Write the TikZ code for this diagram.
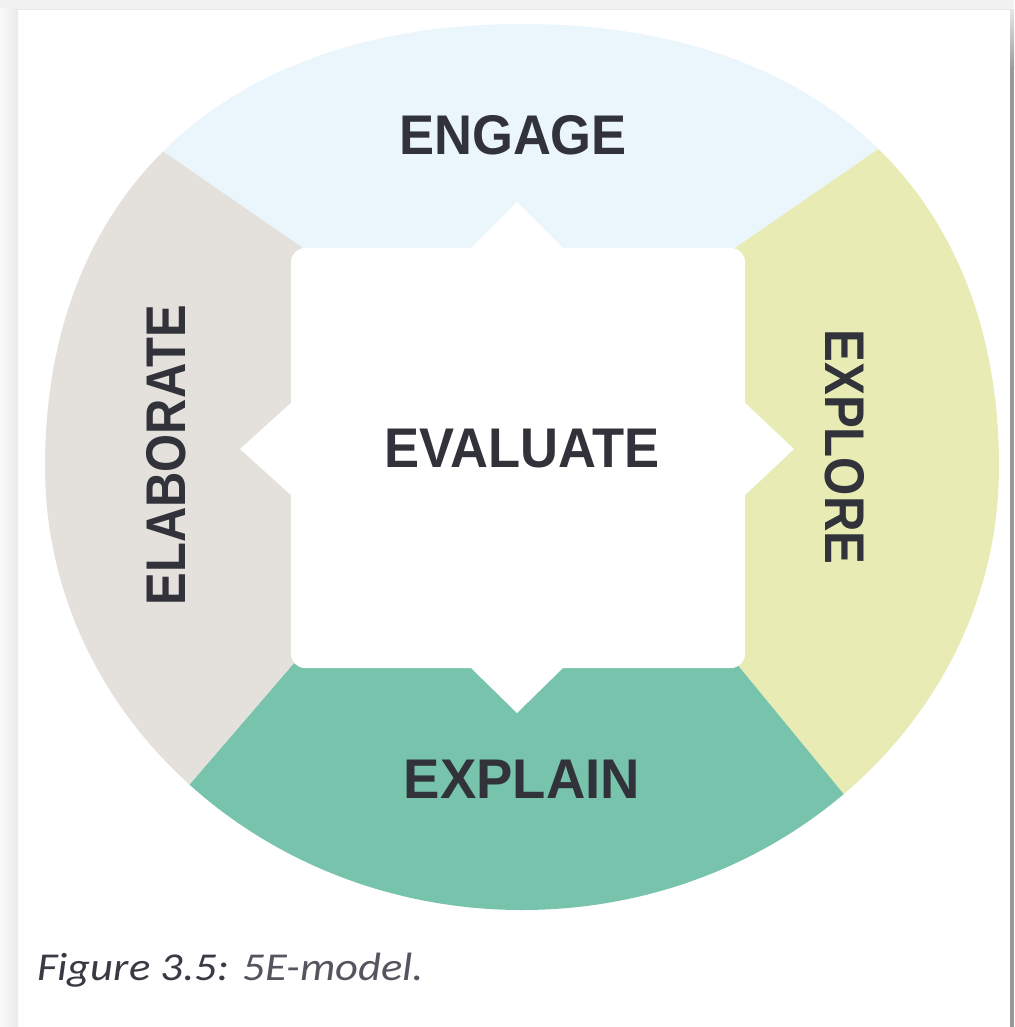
\documentclass[tikz,border=0pt]{standalone}
\usepackage{fontspec}
\usepackage{xcolor}
\usepackage{tikz}
\usetikzlibrary{calc}
\newfontfamily\labelfont{Liberation Sans}
\newfontfamily\capfont{Carlito}
\definecolor{engagecol}{HTML}{EAF5FC}
\definecolor{explorecol}{HTML}{E8ECB4}
\definecolor{explaincol}{HTML}{78C3AC}
\definecolor{elaboratecol}{HTML}{E4E1DD}
\definecolor{labeltext}{HTML}{32323A}
\definecolor{captiondark}{HTML}{3A3A44}
\definecolor{captionlight}{HTML}{55555F}
\definecolor{framegray}{HTML}{F1F1F1}

\begin{document}
\begin{tikzpicture}[x=1pt,y=-1pt,
    seglabel/.style={text=labeltext, inner sep=0pt, font=\labelfont\bfseries\fontsize{55.9}{60}\selectfont}]
        \useasboundingbox (0,0) rectangle (1014,1027);

        % Page frame
        \fill[white] (0,0) rectangle (1014,1027);
        \fill[framegray] (0,0) rectangle (1014,9);
        \draw[black!9] (18,9.5) -- (1010,9.5);
        \shade[left color=white!98!black, right color=white!92!black] (0,9) rectangle (18,1027);
        \shade[top color=white!90!black, bottom color=white!60!black] (1010,10) rectangle (1014,70);
        \fill[white!60!black] (1010,70) rectangle (1014,1027);

        % Coloured ring
        \begin{scope}
            \clip (45,467) .. controls (45,192) and (226,24) .. (522,24)
                           .. controls (818,24) and (999,192) .. (999,467)
                           .. controls (999,712) and (785,910) .. (522,910)
                           .. controls (259,910) and (45,712) .. (45,467) -- cycle;
            \fill[engagecol] (19,52) -- (374,297) -- (664,297) -- (1019,52) -- (1100,-100) -- (-100,-100) -- cycle; % Engage
            \fill[explorecol] (1019,52) -- (664,297) -- (685,601) -- (948,921) -- (1100,1100) -- (1100,-100) -- cycle; % Explore
            \fill[explaincol] (948,921) -- (685,601) -- (343,606) -- (91,899) -- (-100,1100) -- (1100,1100) -- cycle; % Explain
            \fill[elaboratecol] (91,899) -- (343,606) -- (374,297) -- (19,52) -- (-100,-100) -- (-100,1100) -- cycle; % Elaborate
        \end{scope}

        % Inner square with notches
        \fill[white, rounded corners=14pt] (291,248) rectangle (745,668);
        \fill[white] (470,249) -- (517,202) -- (564,249) -- cycle;
        \fill[white] (470,667) -- (517,713) -- (564,667) -- cycle;
        \fill[white] (292,402) -- (240,449) -- (292,496) -- cycle;
        \fill[white] (744,402) -- (794,449) -- (744,496) -- cycle;

        \node[seglabel, xscale=0.94] (engage) at (513,135) {ENGAGE};
        \node[seglabel, xscale=0.94] (evaluate) at (522,449) {EVALUATE};
        \node[seglabel, xscale=0.975] (explain) at (522,779) {EXPLAIN};
        \node[seglabel, rotate=90, xscale=0.875] (elaborate) at (166,455) {ELABORATE};
        \node[seglabel, rotate=-90, xscale=0.88] (explore) at (845,447) {EXPLORE};

        \node[anchor=base west, inner sep=0pt, xscale=1.13, font=\capfont\itshape\fontsize{39.5}{44}\selectfont] (caption) at (37,980)
            {\textcolor{captiondark}{Figure 3.5:} \textcolor{captionlight}{5E-model.}};
    \end{tikzpicture}
\end{document}
